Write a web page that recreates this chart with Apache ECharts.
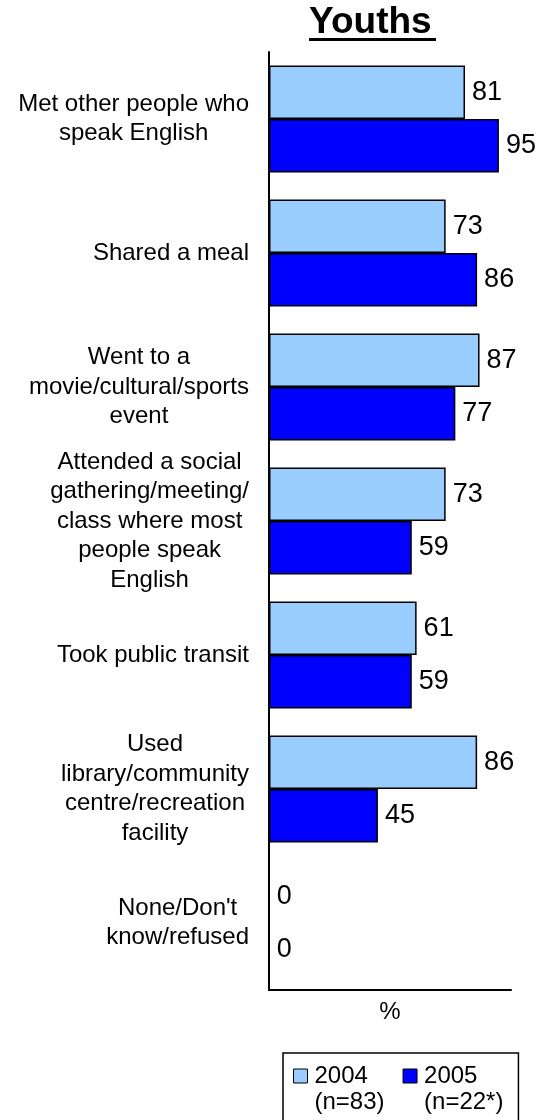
<!DOCTYPE html>
<html>
<head>
<meta charset="utf-8">
<script src="https://cdn.jsdelivr.net/npm/echarts@6/dist/echarts.min.js"></script>
<style>
  html, body { margin: 0; padding: 0; background: #fff; }
  #chart { width: 540px; height: 1120px; }
</style>
</head>
<body>
<div id="chart"></div>
<script>
// Activities done in English, youths, by survey year (%)
const categories = [
  'Met other people who\nspeak English',
  'Shared a meal',
  'Went to a\nmovie/cultural/sports\nevent',
  'Attended a social\ngathering/meeting/\nclass where most\npeople speak\nEnglish',
  'Took public transit',
  'Used\nlibrary/community\ncentre/recreation\nfacility',
  "None/Don't\nknow/refused"
];
const values2004 = [81, 73, 87, 73, 61, 86, 0];
const values2005 = [95, 86, 77, 59, 59, 45, 0];
const seriesNames = ['2004', '2005'];
const sampleSizes = ['(n=83)', '(n=22*)'];
const axisName = '%';
const chartTitle = 'Youths';

const FONT = '"Liberation Sans", Arial, sans-serif';

// Legend swatch: a 14x14 square sitting at the top of a 14x40 box, so it lines up
// with the first line of the two-line legend text.
const LEGEND_ICON = 'path://M0,0h14v14h-14z M0,40';

const chart = echarts.init(document.getElementById('chart'), null, { renderer: 'canvas' });

const labelStyle = {
  show: true,
  position: 'right',
  distance: 7,
  fontSize: 27,
  color: '#000',
  fontFamily: FONT
};

chart.setOption({
  animation: false,
  backgroundColor: '#fff',
  textStyle: { fontFamily: FONT },
  title: {
    text: chartTitle,
    left: 309,
    top: 4,
    padding: 0,
    textStyle: { fontSize: 37, fontWeight: 'bold', color: '#000', fontFamily: FONT }
  },
  // underline under the title
  graphic: [{
    type: 'rect',
    shape: { x: 309, y: 38, width: 127, height: 3 },
    style: { fill: '#000' },
    silent: true
  }],
  grid: {
    left: 269,
    right: 29,
    top: 52,
    bottom: 130,
    containLabel: false,
    outerBoundsMode: 'none'
  },
  xAxis: {
    type: 'value',
    min: 0,
    max: 100,
    axisLine: { show: true, lineStyle: { color: '#000', width: 2 } },
    axisTick: { show: false },
    axisLabel: { show: false },
    splitLine: { show: false },
    name: axisName,
    nameLocation: 'middle',
    nameGap: 10,
    nameTextStyle: { fontSize: 24, color: '#000', fontFamily: FONT }
  },
  yAxis: {
    type: 'category',
    inverse: true,
    data: categories,
    axisLine: { show: true, onZero: false, lineStyle: { color: '#000', width: 2 } },
    axisTick: { show: false },
    splitLine: { show: false },
    axisLabel: {
      interval: 0,
      margin: 20,
      align: 'right',
      formatter: function (v) {
        return v.split('\n').map(function (s) { return '{c|' + s + '}'; }).join('\n');
      },
      rich: {
        c: { align: 'center', fontSize: 24, lineHeight: 29.5, color: '#000', fontFamily: FONT }
      }
    }
  },
  legend: {
    data: seriesNames,
    orient: 'horizontal',
    left: 283,
    top: 1053,
    padding: [10, 15, 12, 10],
    itemWidth: 14,
    itemHeight: 40,
    itemGap: 18,
    borderColor: '#000',
    borderWidth: 1.5,
    icon: LEGEND_ICON,
    itemStyle: { borderColor: '#000', borderWidth: 1 },
    textStyle: { fontSize: 24, color: '#000', lineHeight: 26, padding: [0, 0, 0, 2], fontFamily: FONT },
    formatter: function (name) {
      return name + '\n' + sampleSizes[seriesNames.indexOf(name)];
    }
  },
  series: [
    {
      name: seriesNames[0],
      type: 'bar',
      data: values2004,
      barGap: '0%',
      barCategoryGap: '20%',
      itemStyle: { color: '#99CCFF', borderColor: '#000', borderWidth: 1.5 },
      label: labelStyle
    },
    {
      name: seriesNames[1],
      type: 'bar',
      data: values2005,
      barGap: '0%',
      barCategoryGap: '20%',
      itemStyle: { color: '#0000FF', borderColor: '#000', borderWidth: 1.5 },
      label: labelStyle
    }
  ]
});
</script>
</body>
</html>
